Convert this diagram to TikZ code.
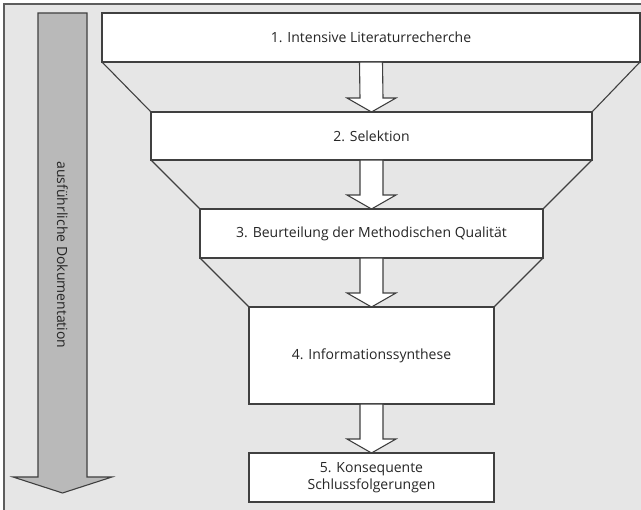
\documentclass[tikz,border=0pt]{standalone}
\usepackage{fontspec}
\setmainfont{Open Sans}
\usetikzlibrary{calc}
\definecolor{panel}{HTML}{E6E6E6}
\definecolor{edge}{HTML}{404040}
\definecolor{ink}{HTML}{262626}
\definecolor{bararrow}{HTML}{B9B9B9}
\tikzset{
  stage/.style={draw=edge, line width=1.1pt, fill=white, inner sep=0pt, outer sep=0pt,
    align=center, text=ink, font=\fontsize{14}{17}\selectfont},
  funnel/.style={draw=edge, line width=1.1pt},
  flow/.style={draw=edge, line width=1.1pt, fill=white, line join=miter},
  docbar/.style={draw=edge, line width=1.1pt, fill=bararrow, line join=miter},
}
% hollow block arrow between the bottom of #1 and the top of #2
\newcommand{\blockarrow}[2]{%
  \path[flow] ($(#1.south)+(-11.5,0)$) -- ($(#1.south)+(11.5,0)$)
    -- ($(#2.north)+(11.5,-14)$) -- ($(#2.north)+(24.5,-14)$)
    -- (#2.north) -- ($(#2.north)+(-24.5,-14)$) -- ($(#2.north)+(-11.5,-14)$) -- cycle;}
\begin{document}
\begin{tikzpicture}[x=1pt,y=-1pt]
  \useasboundingbox (0,0) rectangle (641,510);
  \fill[white] (0,0) rectangle (641,510);
  \fill[panel] (4,4) rectangle (641,510);
  \draw[edge!85, line width=1.1pt] (4,510) -- (4,4) -- (641,4);

  % documentation bar running down the left side
  \path[docbar] (38,13) -- (87,13) -- (87,477) -- (112,477) -- (62.5,493)
    -- (13,477) -- (38,477) -- cycle;
  \node[rotate=-90, text=ink, font=\fontsize{14}{17}\selectfont] (doc) at (62.5,255)
    {ausführliche Dokumentation};

  % funnel stages
  \node[stage, minimum width=538pt, minimum height=49pt] (s1) at (371,37.5)
    {1. Intensive Literaturrecherche};
  \node[stage, minimum width=441pt, minimum height=48pt] (s2) at (371.5,136)
    {2. Selektion};
  \node[stage, minimum width=343pt, minimum height=49pt] (s3) at (371.5,233.5)
    {3. Beurteilung der Methodischen Qualität};
  \node[stage, minimum width=245pt, minimum height=97pt] (s4) at (371.5,355.5)
    {4. Informationssynthese};
  \node[stage, minimum width=245pt, minimum height=49pt] (s5) at (371.5,477.5)
    {5. Konsequente\\Schlussfolgerungen};

  % funnel walls
  \draw[funnel] (s1.south west) -- (s2.north west);
  \draw[funnel] (s1.south east) -- (s2.north east);
  \draw[funnel] (s2.south west) -- (s3.north west);
  \draw[funnel] (s2.south east) -- (s3.north east);
  \draw[funnel] (s3.south west) -- (s4.north west);
  \draw[funnel] (s3.south east) -- (s4.north east);

  % flow arrows
  \blockarrow{s1}{s2}
  \blockarrow{s2}{s3}
  \blockarrow{s3}{s4}
  \blockarrow{s4}{s5}
\end{tikzpicture}
\end{document}
